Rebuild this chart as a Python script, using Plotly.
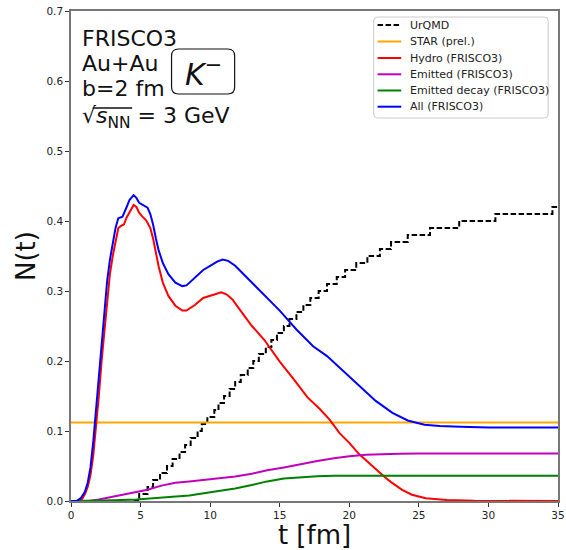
import plotly.graph_objects as go

# ---------------- data ----------------
urqmd_t = [4.5, 4.9, 5.5, 5.9, 6.4, 6.9, 7.3, 7.8, 8.2, 8.6, 9.1, 9.4, 9.8, 10.3, 10.6,
           11.0, 11.4, 11.8, 12.2, 12.7, 13.1, 13.5, 14.0, 14.4, 14.8, 15.3, 15.7, 16.2,
           16.7, 17.2, 17.8, 18.4, 19.1, 19.7, 20.5, 21.3, 22.2, 23.0, 24.2, 25.8, 27.9,
           30.5, 34.6, 35.0]
urqmd_n = [0.00, 0.01, 0.02, 0.03, 0.04, 0.05, 0.06, 0.07, 0.08, 0.09, 0.10, 0.11, 0.12,
           0.13, 0.14, 0.15, 0.16, 0.17, 0.18, 0.19, 0.20, 0.21, 0.22, 0.23, 0.24, 0.25,
           0.26, 0.27, 0.28, 0.29, 0.30, 0.31, 0.32, 0.33, 0.34, 0.35, 0.36, 0.37, 0.38,
           0.39, 0.40, 0.41, 0.42, 0.42]

star_t = [0, 35]
star_n = [0.112, 0.112]

hydro_t = [0, 0.5, 0.8, 1.0, 1.2, 1.4, 1.6, 1.8, 2.0, 2.2, 2.4, 2.6, 2.8, 3.0, 3.2, 3.4,
           3.6, 3.8, 4.0, 4.2, 4.5, 4.7, 4.9, 5.1, 5.4, 5.7, 5.9, 6.1, 6.3, 6.6, 7.0, 7.5,
           8.0, 8.3, 8.9, 9.5, 10.0, 10.5, 10.8, 11.2, 11.6, 12.0, 12.5, 13.0, 13.9, 15.0,
           16.0, 17.0, 17.9, 18.6, 19.3, 20.0, 20.7, 21.4, 22.0, 22.5, 23.0, 23.8, 24.5,
           25.5, 27.0, 29.0, 35.0]
hydro_n = [0, 0.0, 0.003, 0.01, 0.02, 0.037, 0.065, 0.105, 0.15, 0.2, 0.245, 0.29, 0.325,
           0.35, 0.372, 0.39, 0.393, 0.395, 0.405, 0.413, 0.423, 0.42, 0.412, 0.407, 0.401,
           0.39, 0.375, 0.355, 0.335, 0.312, 0.293, 0.279, 0.272, 0.272, 0.28, 0.29, 0.293,
           0.296, 0.298, 0.295, 0.288, 0.277, 0.263, 0.25, 0.23, 0.199, 0.174, 0.148, 0.131,
           0.116, 0.097, 0.083, 0.067, 0.054, 0.044, 0.035, 0.027, 0.016, 0.009, 0.004,
           0.0015, 0.0003, 0.0]

emit_t = [0, 1.3, 2.0, 2.5, 3.0, 3.5, 4.5, 5.5, 6.5, 7.5, 8.5, 9.9, 11.8, 13.0, 14.1, 15.3,
          16.5, 17.7, 18.9, 20.0, 21.2, 22.4, 23.6, 25.0, 35.0]
emit_n = [0, 0, 0.002, 0.004, 0.007, 0.009, 0.012, 0.016, 0.022, 0.026, 0.028, 0.031, 0.035,
          0.039, 0.044, 0.048, 0.053, 0.057, 0.061, 0.064, 0.066, 0.067, 0.0676, 0.068, 0.068]

decay_t = [0, 1.5, 3.0, 4.7, 6.0, 7.0, 8.5, 9.9, 11.8, 13.0, 14.1, 15.3, 16.5, 17.7, 18.9, 35.0]
decay_n = [0, 0, 0.001, 0.002, 0.004, 0.005, 0.008, 0.012, 0.018, 0.023, 0.028, 0.032,
           0.034, 0.0355, 0.036, 0.036]

all_t = [0, 0.4, 0.7, 1.0, 1.2, 1.4, 1.6, 1.8, 2.0, 2.2, 2.4, 2.6, 2.8, 3.0, 3.2, 3.4, 3.7,
         4.0, 4.2, 4.5, 4.7, 4.9, 5.2, 5.5, 5.7, 5.9, 6.1, 6.3, 6.6, 7.0, 7.5, 8.0, 8.3, 8.9,
         9.5, 10.0, 10.5, 10.9, 11.3, 11.8, 12.4, 12.9, 13.9, 15.0, 16.2, 17.4, 18.4, 19.5,
         20.7, 21.9, 23.1, 24.2, 25.4, 26.5, 28.0, 30.0, 35.0]
all_n = [0, 0.0, 0.004, 0.013, 0.026, 0.048, 0.085, 0.13, 0.18, 0.23, 0.275, 0.315, 0.345,
         0.368, 0.39, 0.404, 0.406, 0.42, 0.43, 0.437, 0.433, 0.426, 0.423, 0.419, 0.41,
         0.395, 0.375, 0.358, 0.34, 0.324, 0.312, 0.307, 0.308, 0.319, 0.33, 0.336, 0.342,
         0.345, 0.343, 0.336, 0.324, 0.313, 0.293, 0.272, 0.245, 0.221, 0.207, 0.187, 0.164,
         0.143, 0.126, 0.115, 0.109, 0.107, 0.106, 0.105, 0.105]

series_names = ["UrQMD", "STAR (prel.)", "Hydro (FRISCO3)", "Emitted (FRISCO3)",
                "Emitted decay (FRISCO3)", "All (FRISCO3)"]
series_colors = ["black", "#FFA500", "#FF0000", "#BF00BF", "#008000", "#0000FF"]

x_ticks = [0, 5, 10, 15, 20, 25, 30, 35]
y_ticks = [0.0, 0.1, 0.2, 0.3, 0.4, 0.5, 0.6, 0.7]

FONT = "DejaVu Sans"
DASH = "5.5px,2.5px"

fig = go.Figure()
series = [(urqmd_t, urqmd_n), (star_t, star_n), (hydro_t, hydro_n),
          (emit_t, emit_n), (decay_t, decay_n), (all_t, all_n)]
for i, ((tx, ny), name, col) in enumerate(zip(series, series_names, series_colors)):
    fig.add_trace(go.Scatter(
        x=tx, y=ny, mode="lines", name=name,
        line_shape="hv" if i == 0 else "linear",
        line=dict(color=col, width=2, dash=DASH if i == 0 else "solid")))

L, R, T, B = 71, 1, 11, 49
W, H = 566, 550
pw, ph = W - L - R, H - T - B


def px(x):
    return (x - L) / pw


def py(y):
    return (H - B - y) / ph


fig.update_layout(
    width=W, height=H,
    margin=dict(l=L, r=R, t=T, b=B),
    plot_bgcolor="white", paper_bgcolor="white",
    font=dict(family=FONT, color="#222"),
    showlegend=False,
    xaxis=dict(range=[0, 35], tickvals=x_ticks, ticktext=[str(v) for v in x_ticks],
               ticks="outside", ticklen=4, tickcolor="#333", showgrid=False, zeroline=False,
               showline=True, linecolor="#777", linewidth=1.5, mirror=True,
               ticklabeloverflow="allow",
               tickfont=dict(size=10.5, family=FONT, color="#222"),
               title=dict(text="t [fm]", font=dict(size=26, family=FONT, color="#111"), standoff=6)),
    yaxis=dict(range=[0, 0.7], tickvals=y_ticks, ticktext=[f"{v:.1f}" for v in y_ticks],
               ticks="outside", ticklen=4, tickcolor="#333", showgrid=False, zeroline=False,
               showline=True, linecolor="#777", linewidth=1.5, mirror=True,
               tickfont=dict(size=10.5, family=FONT, color="#222"),
               title=dict(text="N(t)", font=dict(size=26, family=FONT, color="#111"), standoff=3)),
)


def rounded_box(xa, xb, ya, yb, rx, ry):
    x0, x1, y0, y1 = px(xa), px(xb), py(yb), py(ya)
    return (f"M {x0 + rx},{y0} L {x1 - rx},{y0} Q {x1},{y0} {x1},{y0 + ry} "
            f"L {x1},{y1 - ry} Q {x1},{y1} {x1 - rx},{y1} L {x0 + rx},{y1} "
            f"Q {x0},{y1} {x0},{y1 - ry} L {x0},{y0 + ry} Q {x0},{y0} {x0 + rx},{y0} Z")


# ---- legend (drawn manually to match the compact matplotlib layout) ----
fig.add_shape(type="path", xref="paper", yref="paper",
              path=rounded_box(378, 555, 17, 118, 4 / pw, 4 / ph),
              line=dict(color="#cccccc", width=1), fillcolor="rgba(255,255,255,0.85)",
              layer="above")
leg_y = [25, 41.5, 58, 74.3, 90.5, 106.7]
for name, col, yy, i in zip(series_names, series_colors, leg_y, range(6)):
    fig.add_shape(type="line", xref="paper", yref="paper", x0=px(382), x1=px(406),
                  y0=py(yy), y1=py(yy), layer="above",
                  line=dict(color=col, width=2, dash=DASH if i == 0 else "solid"))
    fig.add_annotation(x=px(413), y=py(yy), xref="paper", yref="paper", xanchor="left",
                       yanchor="middle", text=name, showarrow=False,
                       font=dict(size=11, family=FONT, color="#222"))

# ---- text block ----
lines = ["FRISCO3", "Au+Au", "b=2 fm", "√<i>s</i><sub>NN</sub> = 3 GeV"]
centers = [38, 63, 88, 117]
for txt, cy in zip(lines, centers):
    fig.add_annotation(x=px(80), y=py(cy), xref="paper", yref="paper", xanchor="left",
                       yanchor="middle", text=txt, showarrow=False,
                       font=dict(size=22, family=FONT, color="#111"))

# overline of the square root
fig.add_shape(type="line", xref="paper", yref="paper", x0=px(93), x1=px(133),
              y0=py(108), y1=py(108), line=dict(color="#111", width=1.3))

# rounded box around K-
fig.add_shape(type="path", xref="paper", yref="paper",
              path=rounded_box(173, 237, 49, 94, 7 / pw, 7 / ph),
              line=dict(color="#111", width=1.2), fillcolor="white", layer="above")
fig.add_annotation(x=px(205), y=py(72), xref="paper", yref="paper", xanchor="center",
                   yanchor="middle", text="<i>K</i><sup>−</sup>", showarrow=False,
                   font=dict(size=30, family=FONT, color="#111"))

fig.write_html("out.html")
